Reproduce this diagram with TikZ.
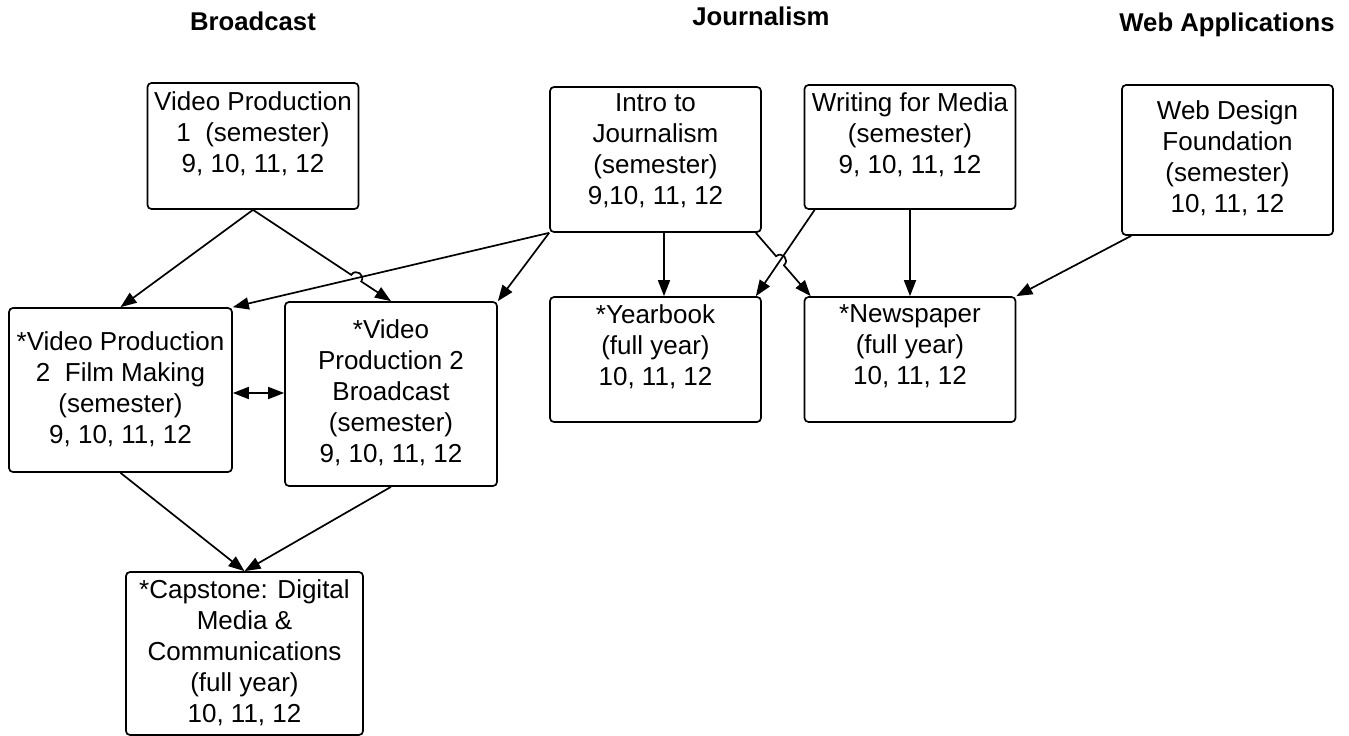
\documentclass[tikz,border=0pt]{standalone}
\usepackage{fontspec}
\setmainfont{Liberation Sans}
\usetikzlibrary{arrows.meta,calc}

\tikzset{
  course/.style={draw, line width=1.7pt, rounded corners=4pt, inner sep=0pt},
  coursetext/.style={font=\fontsize{26}{31}\selectfont, align=center, inner sep=0pt,
    anchor=north, execute at begin node={\rule{0pt}{24.7pt}}},
  header/.style={font=\fontsize{25.7}{30}\selectfont\bfseries, inner sep=0pt,
    text height=18.4pt, text depth=0pt},
  link/.style={line width=1.7pt, -{Triangle[length=16pt,width=12pt]}},
  twoway/.style={line width=1.7pt, {Triangle[length=16pt,width=12pt]}-{Triangle[length=16pt,width=12pt]}}
}

\begin{document}
\begin{tikzpicture}[x=1pt, y=-1pt]
\useasboundingbox (0,0) rectangle (1349,736);

% column headings
\node[header] (hbroad) at (253,21) {Broadcast};
\node[header] (hjourn) at (761,16.5) {Journalism};
\node[header] (hweb) at (1227,22) {Web Applications};

% course boxes
\node[course, minimum width=211pt, minimum height=126pt] (vp1)   at (253,146) {};
\node[course, minimum width=211pt, minimum height=145pt] (intro) at (655.5,159.5) {};
\node[course, minimum width=211pt, minimum height=124pt] (wr)    at (910,147) {};
\node[course, minimum width=211pt, minimum height=150pt] (web)   at (1227.5,160) {};
\node[course, minimum width=223pt, minimum height=164pt] (vp2fm) at (120.5,390) {};
\node[course, minimum width=212pt, minimum height=184pt] (vp2b)  at (391,394) {};
\node[course, minimum width=211pt, minimum height=125pt] (yb)    at (655.5,359.5) {};
\node[course, minimum width=211pt, minimum height=125pt] (np)    at (910,359.5) {};
\node[course, minimum width=237pt, minimum height=163pt] (cap)   at (244.5,653.5) {};

% course titles
\node[coursetext] (vp1t)   at (253,91)      {Video Production\\1 \ (semester)\\9, 10, 11, 12};
\node[coursetext] (introt) at (655.5,93)    {Intro to\\Journalism\\(semester)\\9,10, 11, 12};
\node[coursetext] (wrt)    at (910,92)      {Writing for Media\\(semester)\\9, 10, 11, 12};
\node[coursetext] (webt)   at (1227.5,100.5) {Web Design\\Foundation\\(semester)\\10, 11, 12};
\node[coursetext] (vp2fmt) at (120.5,331)   {*Video Production\\2 \ Film Making\\(semester)\\9, 10, 11, 12};
\node[coursetext] (vp2bt)  at (391,319)     {*Video\\Production 2\\Broadcast\\(semester)\\9, 10, 11, 12};
\node[coursetext] (ybt)    at (655.5,304)   {*Yearbook\\(full year)\\10, 11, 12};
\node[coursetext] (npt)    at (910,304)     {*Newspaper\\(full year)\\10, 11, 12};
\node[coursetext] (capt)   at (244.5,579)   {*Capstone: Digital\\Media \&\\Communications\\(full year)\\10, 11, 12};

% connector end points that sit off the anchors
\coordinate (introYb) at ([xshift=8.5pt]intro.south);
\coordinate (ybTop)   at ([xshift=8.5pt]yb.north);
\coordinate (introNp) at ([xshift=-6pt]intro.south east);
\coordinate (npTopL)  at ([xshift=7pt]np.north west);
\coordinate (wrYb)    at ([xshift=11pt]wr.south west);
\coordinate (ybTopR)  at ([xshift=-6pt]yb.north east);
\coordinate (webNp)   at ([xshift=10pt]web.south west);

% Broadcast prerequisites
\draw[link] (vp1.south) -- (vp2fm.north);
\draw[link] (intro.south west) -- (vp2fm.north east);
\draw[link] (intro.south west) -- (vp2b.north east);

% line hop where the two strands cross
\coordinate (c1) at (intersection of vp1.south--vp2b.north and intro.south west--vp2fm.north east);
\coordinate (c1a) at ($(c1)!6pt!(vp1.south)$);
\coordinate (c1b) at ($(c1)!6pt!(vp2b.north)$);
\draw[link] (vp1.south) -- (c1a)
  .. controls ($(c1a)!8pt!90:(c1)$) and ($(c1b)!8pt!-90:(c1)$) .. (c1b)
  -- (vp2b.north);

\draw[twoway] ([yshift=-3pt]vp2fm.east) -- ([yshift=-3pt]vp2fm.east -| vp2b.west);
\draw[link] (vp2fm.south) -- (cap.north);
\draw[link] (vp2b.south) -- (cap.north);

% Journalism prerequisites
\draw[link] (introYb) -- (ybTop);
\draw[link] (wrYb) -- (ybTopR);
\draw[link] (wr.south) -- (np.north);

\coordinate (c2) at (intersection of introNp--npTopL and wrYb--ybTopR);
\coordinate (c2a) at ($(c2)!6pt!(introNp)$);
\coordinate (c2b) at ($(c2)!6pt!(npTopL)$);
\draw[link] (introNp) -- (c2a)
  .. controls ($(c2a)!8pt!90:(c2)$) and ($(c2b)!8pt!-90:(c2)$) .. (c2b)
  -- (npTopL);

% Web Applications
\draw[link] (webNp) -- (np.north east);
\end{tikzpicture}
\end{document}
